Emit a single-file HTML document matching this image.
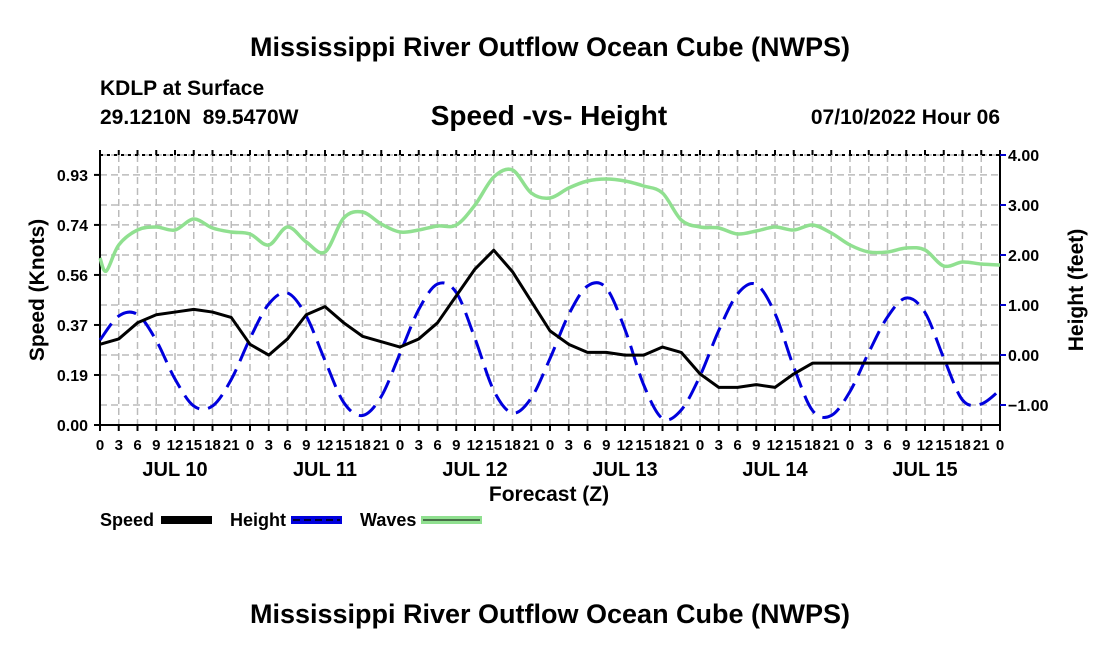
<!DOCTYPE html>
<html><head><meta charset="utf-8"><style>
body{margin:0;background:#fff;}
svg{display:block;font-family:"Liberation Sans",Arial,sans-serif;font-weight:bold;}
</style></head><body>
<svg id="c" width="1100" height="650" viewBox="0 0 1100 650"></svg>
<script>
const hours = [];for(let h=0;h<=144;h+=3)hours.push(h);
const speedKnots=[0.30,0.32,0.38,0.41,0.42,0.43,0.42,0.40,0.30,0.26,0.32,0.41,0.44,0.38,0.33,0.31,0.29,0.32,0.38,0.48,0.58,0.65,0.57,0.46,0.35,0.30,0.27,0.27,0.26,0.26,0.29,0.27,0.19,0.14,0.14,0.15,0.14,0.19,0.23,0.23,0.23,0.23,0.23,0.23,0.23,0.23,0.23,0.23,0.23];
const heightFeet=[0.3,0.78,0.81,0.29,-0.48,-1.02,-1.02,-0.49,0.33,1.02,1.24,0.78,-0.11,-0.95,-1.21,-0.83,0.03,0.91,1.42,1.25,0.33,-0.71,-1.16,-0.86,-0.07,0.81,1.38,1.34,0.51,-0.6,-1.27,-1.1,-0.42,0.49,1.22,1.41,0.83,-0.24,-1.11,-1.21,-0.73,0.05,0.76,1.14,0.85,-0.06,-0.9,-0.98,-0.7];
const waveHours=[0,1].concat(hours.slice(1));
const wavesFeet=[1.94,1.68,2.2,2.5,2.56,2.5,2.72,2.54,2.46,2.42,2.2,2.56,2.26,2.06,2.74,2.86,2.62,2.46,2.5,2.58,2.6,3.0,3.56,3.7,3.24,3.14,3.34,3.48,3.52,3.48,3.38,3.24,2.7,2.56,2.54,2.42,2.48,2.56,2.5,2.6,2.44,2.2,2.06,2.06,2.14,2.1,1.78,1.86,1.82,1.8];
const leftTicks=[0,0.186,0.372,0.558,0.744,0.93];
const leftTickLabels=["0.00","0.19","0.37","0.56","0.74","0.93"];
const rightTicks=[-1,0,1,2,3,4];
const rightTickLabels=["\u22121.00","0.00","1.00","2.00","3.00","4.00"];
const dayLabels=["JUL 10","JUL 11","JUL 12","JUL 13","JUL 14","JUL 15"];

const L=100,R=1000,T=155,B=425;
const xs=h=>L+h*(R-L)/144;
const yl=v=>B-v*(B-T)/1.004;
const yr=v=>B-(v+1.4)*(B-T)/5.4;
const svg=document.getElementById('c');
const NS='http://www.w3.org/2000/svg';
function mk(tag,attrs,parent){const e=document.createElementNS(NS,tag);for(const k in attrs)e.setAttribute(k,attrs[k]);(parent||svg).appendChild(e);return e;}
function txt(s,x,y,size,anchor,extra){const e=mk('text',Object.assign({x:x,y:y,'font-size':size,'text-anchor':anchor||'start',fill:'#000'},extra||{}));e.textContent=s;return e;}

const grid=mk('g',{stroke:'#bbb','stroke-width':1.5,'stroke-dasharray':'7,4'});


for(let h=3;h<144;h+=3)mk('line',{x1:xs(h),x2:xs(h),y1:T,y2:B},grid);
leftTicks.forEach(v=>{if(v>0)mk('line',{x1:L,x2:R,y1:yl(v),y2:yl(v)},grid);});
rightTicks.forEach(v=>mk('line',{x1:L,x2:R,y1:yr(v),y2:yr(v)},grid));

const ax=mk('g',{stroke:'#000','stroke-width':2});


mk('line',{x1:L,x2:L,y1:T,y2:B},ax);
mk('line',{x1:R,x2:R,y1:T,y2:B},ax);
mk('line',{x1:L,x2:R,y1:B,y2:B},ax);
mk('line',{x1:L,x2:R,y1:T,y2:T,'stroke-dasharray':'3,4'},ax);
for(let h=0;h<=144;h+=3){mk('line',{x1:xs(h),x2:xs(h),y1:B,y2:B+6},ax);mk('line',{x1:xs(h),x2:xs(h),y1:T,y2:T-5},ax);}
leftTicks.forEach((v,i)=>{mk('line',{x1:L-6,x2:L,y1:yl(v),y2:yl(v)},ax);
 const t=txt(leftTickLabels[i],88,yl(v)+6,16,'end');});
rightTicks.forEach((v,i)=>{mk('line',{x1:R,x2:R+6,y1:yr(v),y2:yr(v),stroke:'#00c'},ax);
 const t=txt(rightTickLabels[i],1008,yr(v)+6,16,'start');});
for(let h=0;h<=144;h+=3){const t=txt(String(h%24),xs(h),450,15,'middle');}
dayLabels.forEach((d,i)=>{const t=txt(d,xs(i*24+12),476,20,'middle');});

function smooth(pts){let d='M'+pts[0][0]+','+pts[0][1];for(let i=0;i<pts.length-1;i++){const p0=pts[i-1]||pts[i],p1=pts[i],p2=pts[i+1],p3=pts[i+2]||p2;
 d+=' C'+(p1[0]+(p2[0]-p0[0])/6)+','+(p1[1]+(p2[1]-p0[1])/6)+' '+(p2[0]-(p3[0]-p1[0])/6)+','+(p2[1]-(p3[1]-p1[1])/6)+' '+p2[0]+','+p2[1];}return d;}

const wp=mk('path',{d:smooth(waveHours.map((h,i)=>[xs(h),yr(wavesFeet[i])])),fill:'none',stroke:'#90e090','stroke-width':3.5});


const hp=mk('path',{d:smooth(hours.map((h,i)=>[xs(h),yr(heightFeet[i])])),fill:'none',stroke:'#0000dd','stroke-width':3,'stroke-dasharray':'20,9'});


const sp=mk('polyline',{points:hours.map((h,i)=>xs(h)+','+yl(speedKnots[i])).join(' '),fill:'none',stroke:'#000','stroke-width':3,'stroke-linejoin':'round'});



let t;
t=txt('Mississippi River Outflow Ocean Cube (NWPS)',550,56,27,'middle');
t=txt('KDLP at Surface',100,95,21,'start');
t=txt('29.1210N\u00a0\u00a089.5470W',100,124,21,'start');
t=txt('Speed -vs- Height',549,125,28,'middle');
t=txt('07/10/2022 Hour 06',1000,124,21,'end');
t=txt('Speed (Knots)',0,0,21,'middle',{transform:'translate(44,290) rotate(-90)'});
t=txt('Height (feet)',0,0,21,'middle',{transform:'translate(1083,290) rotate(-90)'});
t=txt('Forecast (Z)',549,501,21,'middle');
t=txt('Mississippi River Outflow Ocean Cube (NWPS)',550,623,27,'middle');

const lg=mk('g',{});


t=txt('Speed',100,526,18,'start');
let r=mk('rect',{x:161,y:516,width:51,height:8,fill:'#000'},lg);
t=txt('Height',230,526,18,'start');
r=mk('rect',{x:291,y:516,width:51,height:8,fill:'#0000dd'},lg);
mk('line',{x1:293,x2:340,y1:520,y2:520,stroke:'#000','stroke-width':1.5,'stroke-dasharray':'7,4'},lg);
t=txt('Waves',360,526,18,'start');
r=mk('rect',{x:421,y:516,width:61,height:8,fill:'#90e090'},lg);
mk('line',{x1:423,x2:480,y1:520,y2:520,stroke:'#000','stroke-width':1},lg);
</script>
</body></html>
